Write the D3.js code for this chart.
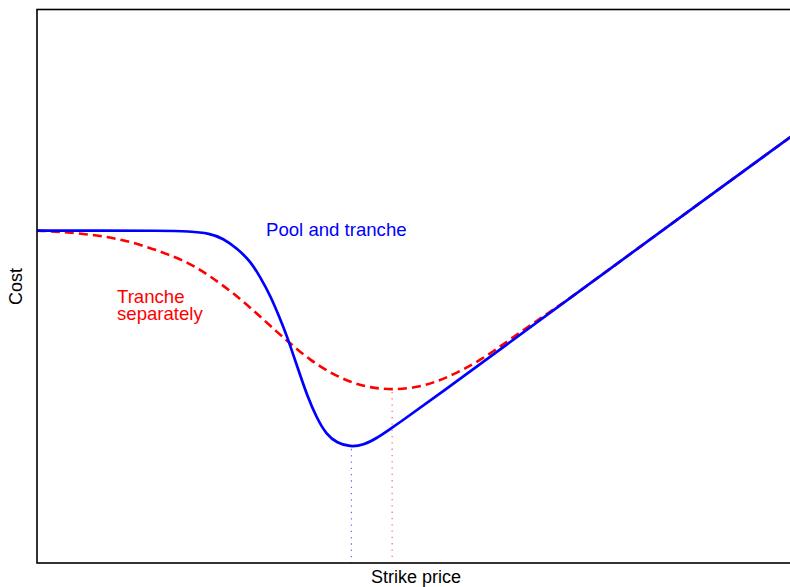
<!DOCTYPE html>
<html>
<head>
<meta charset="utf-8">
<script src="https://cdn.jsdelivr.net/npm/d3@7"></script>
<style>
  html, body { margin: 0; padding: 0; background: #fff; }
  svg { display: block; font-family: "Liberation Sans", Arial, Helvetica, sans-serif; }
</style>
</head>
<body>
<svg id="chart" width="790" height="587"></svg>
<script>
// ---- data (arbitrary units) ----
const poolStrike = [0, 8.4, 16.3, 20.3, 22.9, 24.7, 26.5, 28.3, 29.6, 30.9, 32.2, 33.1, 34.0, 34.9, 35.8, 37.1, 38.4, 39.8, 41.5, 43.3, 45.1, 46.8, 48.1, 53.5, 61.4, 74.7, 87.9, 100];
const poolCost   = [60.1, 60.1, 60.1, 60.0, 59.6, 58.7, 56.9, 54.6, 51.7, 48.5, 44.3, 41.2, 37.6, 34.0, 30.4, 26.2, 23.2, 21.7, 21.0, 21.3, 22.6, 24.2, 25.4, 30.7, 38.6, 51.9, 65.1, 77.1];

const sepStrike = [0, 3.1, 8.0, 12.3, 16.7, 20.3, 22.9, 26.0, 29.1, 31.8, 33.6, 36.2, 38.9, 41.5, 44.2, 47.2, 50.8, 53.1, 54.8, 58.8, 62.7, 66.7, 70.0, 74.7, 87.9, 100];
const sepCost   = [60.1, 59.9, 59.3, 58.2, 56.2, 54.2, 51.9, 48.9, 45.2, 41.8, 39.7, 36.7, 34.4, 32.7, 31.7, 31.3, 31.8, 32.9, 33.8, 36.6, 40.4, 44.2, 47.2, 51.9, 65.1, 77.1];

const minStrike = [41.7, 47.1];
const minCost   = [21.0, 31.3];
const minColors = ["#0000FF", "#FF0000"];

const poolLabel = ["Pool and tranche"];
const sepLabel = ["Tranche", "separately"];
const xLabel = "Strike price";
const yLabel = "Cost";

// ---- layout ----
const svg = d3.select("#chart");
const mLeft = 37, mRight = 791, mTop = 10, mBottom = 563;
const x = d3.scaleLinear().domain([0, 100]).range([mLeft, mRight]);
const y = d3.scaleLinear().domain([0, 100]).range([mBottom, mTop]);

svg.append("defs").append("clipPath").attr("id", "clip")
  .append("rect").attr("x", mLeft).attr("y", mTop)
  .attr("width", mRight - mLeft).attr("height", mBottom - mTop);

const g = svg.append("g").attr("clip-path", "url(#clip)");

// vertical dotted lines at minima
g.selectAll("line.min").data(minStrike).enter().append("line")
  .attr("class", "min")
  .attr("x1", d => x(d)).attr("x2", d => x(d))
  .attr("y1", (d, i) => y(minCost[i]) + 2).attr("y2", y(0))
  .attr("stroke", (d, i) => minColors[i])
  .attr("stroke-opacity", 0.6)
  .attr("stroke-width", 1.2)
  .attr("stroke-dasharray", "1.3,5");

const line = d3.line().x(d => x(d[0])).y(d => y(d[1])).curve(d3.curveBasis);

const sepData = d3.zip(sepStrike, sepCost);
const poolData = d3.zip(poolStrike, poolCost);

g.append("path").datum(sepData)
  .attr("d", line).attr("fill", "none")
  .attr("stroke", "#FF0000").attr("stroke-width", 2.6)
  .attr("stroke-dasharray", "9,5");

g.append("path").datum(poolData)
  .attr("d", line).attr("fill", "none")
  .attr("stroke", "#0000FF").attr("stroke-width", 2.7);

// frame
svg.append("rect").attr("x", mLeft).attr("y", mTop - 0.5)
  .attr("width", mRight - mLeft).attr("height", mBottom - mTop + 0.5)
  .attr("fill", "none").attr("stroke", "#000").attr("stroke-width", 1.6);

// labels
svg.append("text").attr("x", 266).attr("y", 236)
  .attr("fill", "#0000FF").attr("font-size", 18.6)
  .text(poolLabel[0]);

svg.append("text").attr("fill", "#FF0000").attr("font-size", 18.6)
  .selectAll("tspan").data(sepLabel).enter().append("tspan")
  .attr("x", 117).attr("y", (d, i) => 303 + i * 16.5)
  .text(d => d);

svg.append("text").attr("x", (mLeft + mRight) / 2 + 2).attr("y", 583)
  .attr("text-anchor", "middle").attr("font-size", 18)
  .text(xLabel);

svg.append("text")
  .attr("transform", `translate(22, ${(mTop + mBottom) / 2}) rotate(-90)`)
  .attr("text-anchor", "middle").attr("font-size", 18)
  .text(yLabel);
</script>
</body>
</html>
